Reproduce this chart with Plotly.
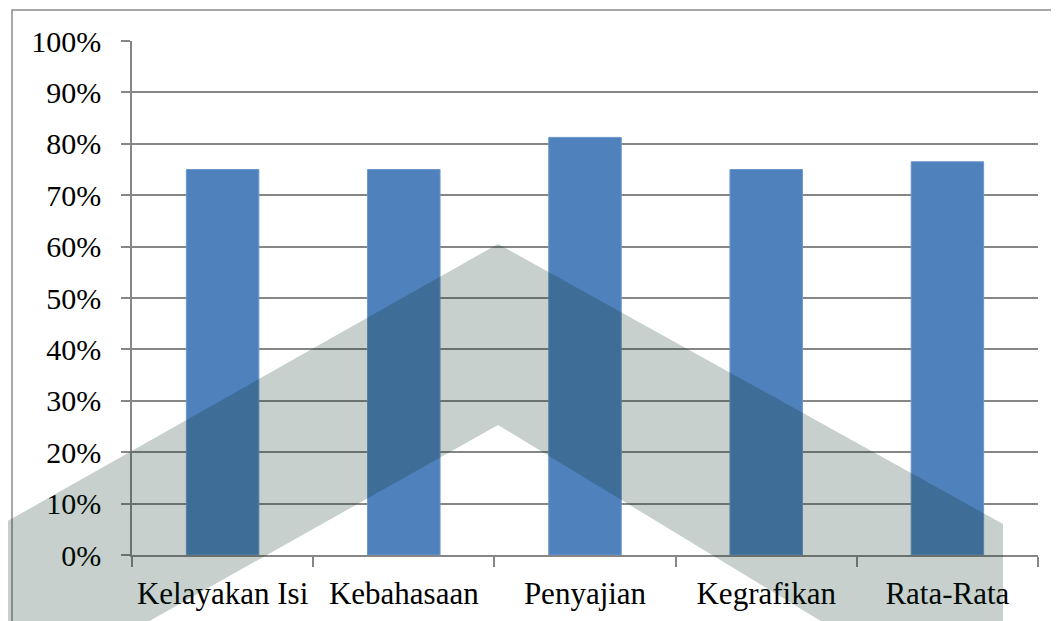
import plotly.graph_objects as go

categories = ["Kelayakan Isi", "Kebahasaan", "Penyajian", "Kegrafikan", "Rata-Rata"]
scores = [0.75, 0.75, 0.8125, 0.75, 0.765]
y_ticks = [i / 10 for i in range(11)]

W, H = 1059, 621
OFF = 8  # page body margin shifts the figure by 8px
# plot area in page pixels: x 132..1038, y 41..555
L, T = 132 - OFF, 41 - OFF
R, B = W - (1038 - OFF), H - (555 - OFF)


def px(x, y):
    # page pixel position -> paper coordinates
    return (x - 132) / (1038 - 132), (555 - y) / (555 - 41)


def path(points):
    pts = [px(x, y) for x, y in points]
    return "M " + " L ".join(f"{a:.4f},{b:.4f}" for a, b in pts) + " Z"


fig = go.Figure()
fig.add_trace(go.Bar(
    x=categories,
    y=scores,
    marker=dict(color="#4F81BD", line=dict(color="#6B97CC", width=1)),
    hoverinfo="x+y",
))

# chart border (only top/left visible in the crop)
bx0, by0 = px(12, 10)
bx1, by1 = px(1100, 700)

# faint chevron watermark over the chart
chevron = [(-10, 531), (498, 244), (1003, 524), (1003, 660),
           (885, 660), (498, 425), (80, 660), (-10, 660)]

fig.update_layout(
    width=W, height=H,
    margin=dict(l=L, r=R, t=T, b=B),
    paper_bgcolor="white",
    plot_bgcolor="white",
    showlegend=False,
    bargap=0.6,
    font=dict(family="Liberation Serif, Times New Roman, serif", size=30, color="black"),
    xaxis=dict(
        showline=True, linecolor="#868686", linewidth=1.5,
        ticks="outside", tickson="boundaries", ticklen=10, tickcolor="#868686", tickwidth=1.5,
        showgrid=False, tickfont=dict(size=31), ticklabelstandoff=10,
    ),
    yaxis=dict(
        range=[0, 1], tickvals=y_ticks, tickformat=".0%",
        showline=True, linecolor="#868686", linewidth=1.5,
        ticks="outside", ticklen=9, tickcolor="#868686", tickwidth=1.5,
        showgrid=True, gridcolor="#868686", gridwidth=1.5,
        zeroline=False, ticklabelstandoff=14, tickfont=dict(size=30),
    ),
    shapes=[
        dict(type="rect", xref="paper", yref="paper", x0=bx0, y0=by0, x1=bx1, y1=by1,
             line=dict(color="#8C8C8C", width=1.5), fillcolor="rgba(0,0,0,0)", layer="below"),
        dict(type="path", xref="paper", yref="paper", path=path(chevron),
             fillcolor="rgba(4,44,26,0.225)", line=dict(width=0), layer="above"),
    ],
)

fig.write_html("out.html")
